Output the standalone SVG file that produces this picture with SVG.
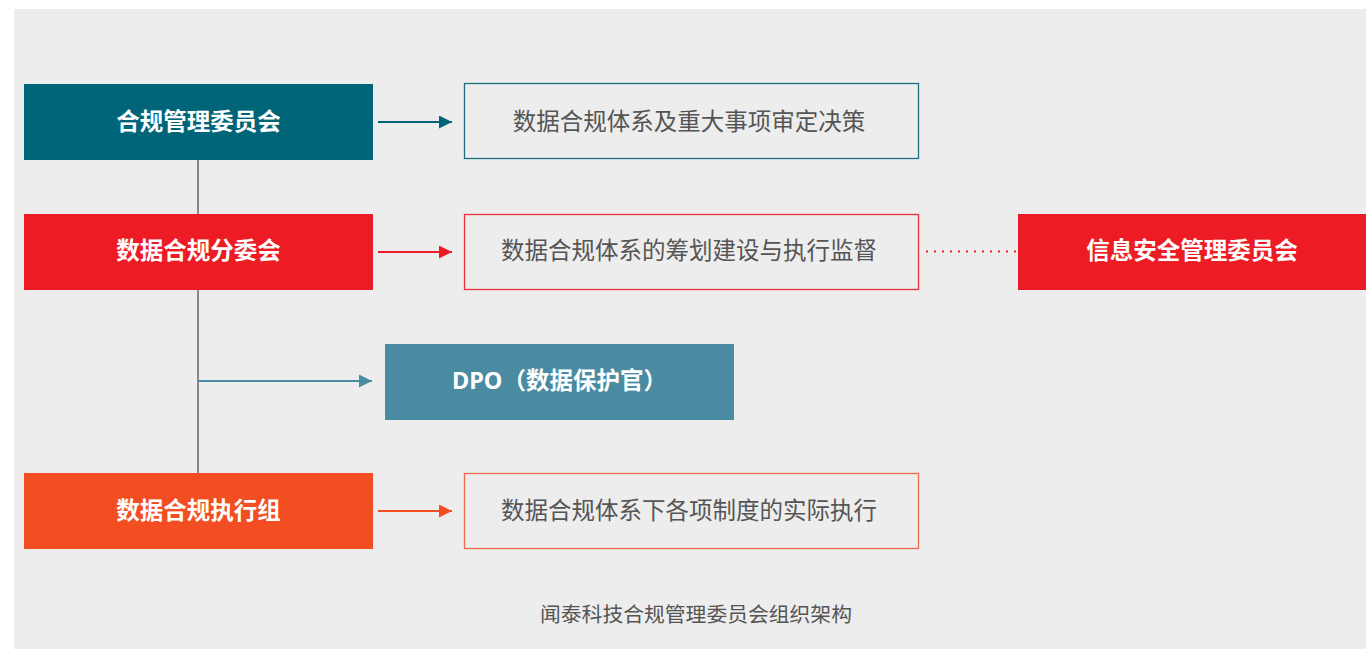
<svg xmlns="http://www.w3.org/2000/svg" width="1366" height="649" viewBox="0 0 1366 649">
<style>
.hd{font-family:"Noto Sans","Noto Sans CJK SC",sans-serif;font-size:23.5px;font-weight:bold;fill:#fff;text-anchor:middle;dominant-baseline:central}
.bd{font-family:"Noto Sans","Noto Sans CJK SC",sans-serif;font-size:23.5px;fill:#555;text-anchor:middle;dominant-baseline:central}
.cap{font-family:"Noto Sans","Noto Sans CJK SC",sans-serif;font-size:20.8px;fill:#555;text-anchor:middle;dominant-baseline:central}
.ob{fill:none;stroke-width:1.3}
</style>
<defs>
<marker id="aT" viewBox="0 0 10 10" refX="10" refY="5" markerWidth="22" markerHeight="13" markerUnits="userSpaceOnUse" orient="auto"><path d="M0,0L10,5L0,10z" fill="#006579"/></marker>
<marker id="aR" viewBox="0 0 10 10" refX="10" refY="5" markerWidth="22" markerHeight="13" markerUnits="userSpaceOnUse" orient="auto"><path d="M0,0L10,5L0,10z" fill="#ED1C24"/></marker>
<marker id="aB" viewBox="0 0 10 10" refX="10" refY="5" markerWidth="22" markerHeight="13" markerUnits="userSpaceOnUse" orient="auto"><path d="M0,0L10,5L0,10z" fill="#4A8BA1"/></marker>
<marker id="aO" viewBox="0 0 10 10" refX="10" refY="5" markerWidth="22" markerHeight="13" markerUnits="userSpaceOnUse" orient="auto"><path d="M0,0L10,5L0,10z" fill="#F24E22"/></marker>
</defs>
<rect x="0" y="0" width="1366" height="649" fill="#fff"/>
<rect x="14" y="9" width="1352" height="640" fill="#EDEDED"/>
<g id="connectors">
<line x1="198" y1="160" x2="198" y2="473" stroke="#888" stroke-width="2"/>
<line x1="378" y1="122" x2="452" y2="122" stroke="#006579" stroke-width="2" marker-end="url(#aT)"/>
<line x1="378" y1="252" x2="452" y2="252" stroke="#ED1C24" stroke-width="2" marker-end="url(#aR)"/>
<line x1="198" y1="381" x2="372" y2="381" stroke="#4A8BA1" stroke-width="2" marker-end="url(#aB)"/>
<line x1="378" y1="511" x2="452" y2="511" stroke="#F24E22" stroke-width="2" marker-end="url(#aO)"/>
<line x1="926" y1="251.5" x2="1016" y2="251.5" stroke="#ED1C24" stroke-width="2" stroke-dasharray="2,6"/>
</g>
<g id="n1"><rect x="24" y="84" width="349" height="76" fill="#006579"/><text class="hd" x="198.5" y="121">合规管理委员会</text></g>
<g id="n2"><rect x="24" y="214" width="349" height="76" fill="#ED1C24"/><text class="hd" x="198.5" y="250">数据合规分委会</text></g>
<g id="n3"><rect x="385" y="344" width="349" height="76" fill="#4A8BA1"/><text class="hd" x="559.5" y="380">DPO（数据保护官）</text></g>
<g id="n4"><rect x="24" y="473" width="349" height="76" fill="#F24E22"/><text class="hd" x="198.5" y="510">数据合规执行组</text></g>
<g id="d1"><rect class="ob" x="464.5" y="83.5" width="454" height="75" stroke="#1F6F82"/><text class="bd" x="689" y="121">数据合规体系及重大事项审定决策</text></g>
<g id="d2"><rect class="ob" x="464.5" y="214.5" width="454" height="75" stroke="#E8323A"/><text class="bd" x="689" y="250">数据合规体系的筹划建设与执行监督</text></g>
<g id="d4"><rect class="ob" x="464.5" y="473.5" width="454" height="75" stroke="#EE6A4A"/><text class="bd" x="689" y="510">数据合规体系下各项制度的实际执行</text></g>
<g id="n5"><rect x="1018" y="214" width="348" height="76" fill="#ED1C24"/><text class="hd" x="1192" y="250">信息安全管理委员会</text></g>
<text class="cap" x="696" y="614">闻泰科技合规管理委员会组织架构</text>
</svg>
